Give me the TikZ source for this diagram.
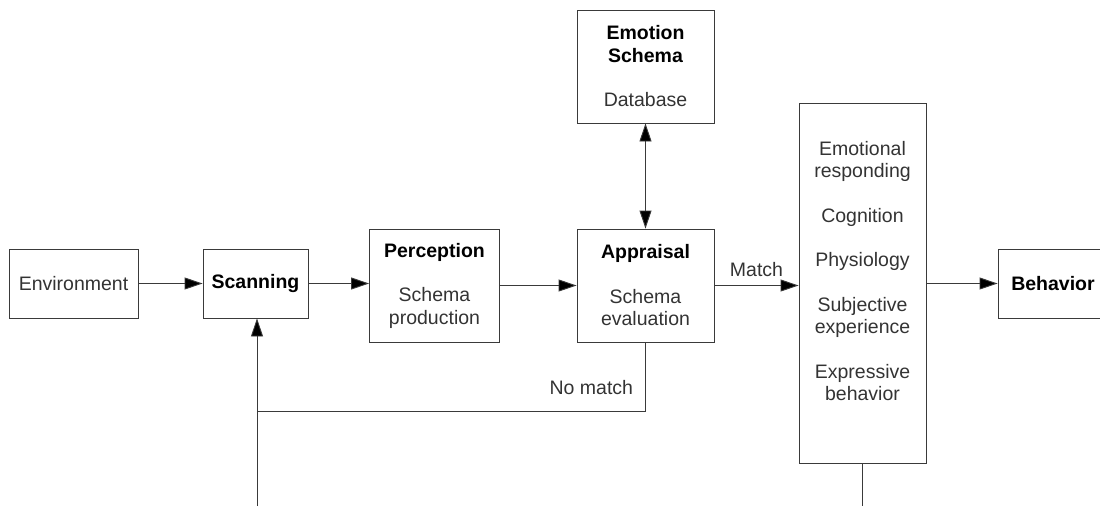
\documentclass[tikz,border=0pt]{standalone}
\usepackage{fontspec}
\setmainfont{Liberation Sans}
\usetikzlibrary{arrows.meta}
\definecolor{txt}{HTML}{333333}
\definecolor{ln}{HTML}{3A3A3A}
\begin{document}
\begin{tikzpicture}[x=1pt,y=-1pt,
  box/.style={draw=ln, line width=0.9pt, inner sep=0pt, align=center,
    font=\fontsize{19.5}{22.5}\selectfont, text=txt},
  lbl/.style={inner sep=0pt, align=center, font=\fontsize{19.5}{22.5}\selectfont, text=txt},
  arr/.style={draw=ln, line width=0.9pt, -{Triangle[length=18pt,width=12pt,fill=black]}},
  darr/.style={draw=ln, line width=0.9pt, {Triangle[length=18pt,width=12pt,fill=black]}-{Triangle[length=18pt,width=12pt,fill=black]}},
  conn/.style={draw=ln, line width=0.9pt}]
\useasboundingbox (0,0) rectangle (1100,506);
\clip (0,0) rectangle (1100,506);
\node[box, minimum width=129pt, minimum height=69pt] (env) at (73.5,283.5) {Environment};
\node[box, minimum width=105pt, minimum height=69pt] (scan) at (255.5,283.5) {\textbf{\color{black}Scanning}\vphantom{p}};
\node[box, minimum width=130pt, minimum height=113pt] (perc) at (434.5,285.5)
  {\textbf{\color{black}Perception}\\[22pt]Schema\\production};
\node[box, minimum width=137pt, minimum height=113pt] (app) at (645.5,285.5)
  {\textbf{\color{black}Appraisal}\\[22pt]Schema\\evaluation};
\node[box, minimum width=137pt, minimum height=113pt] (emo) at (645.5,66.5)
  {\textbf{\color{black}Emotion}\\\textbf{\color{black}Schema}\\[22pt]Database};
\node[box, minimum width=127pt, minimum height=360pt] (big) at (862.5,283) {};
\node[lbl] (bigtext) at (862.5,271)
  {Emotional\\responding\\[22pt]Cognition\\[22pt]Physiology\\[22pt]Subjective\\experience\\[22pt]Expressive\\behavior};
\node[box, minimum width=110pt, minimum height=69pt] (beh) at (1053,283.5) {\textbf{\color{black}Behavior}};
\coordinate (nm) at (257,411);
\coordinate (bot) at (257,506);
\coordinate (bot2) at (861,506);
\draw[arr] (env) -- (scan);
\draw[arr] (scan.east) -- (scan.east -| perc.west);
\draw[arr] (perc.east) -- (app.west);
\draw[arr] (app.east) -- (app.east -| big.west) node[lbl, midway, above=8pt] (match) {Match};
\draw[arr] (big.east |- beh.west) -- (beh.west);
\draw[darr] (emo) -- (app);
\draw[conn] (app.south) |- (nm) node[lbl, anchor=south east, xshift=-12pt, yshift=-18pt, pos=0.25] (nomatch) {No match};
\draw[arr] (bot) -- (bot |- scan.south);
\draw[conn] (big.south) -- (big.south |- bot2);
\end{tikzpicture}
\end{document}
